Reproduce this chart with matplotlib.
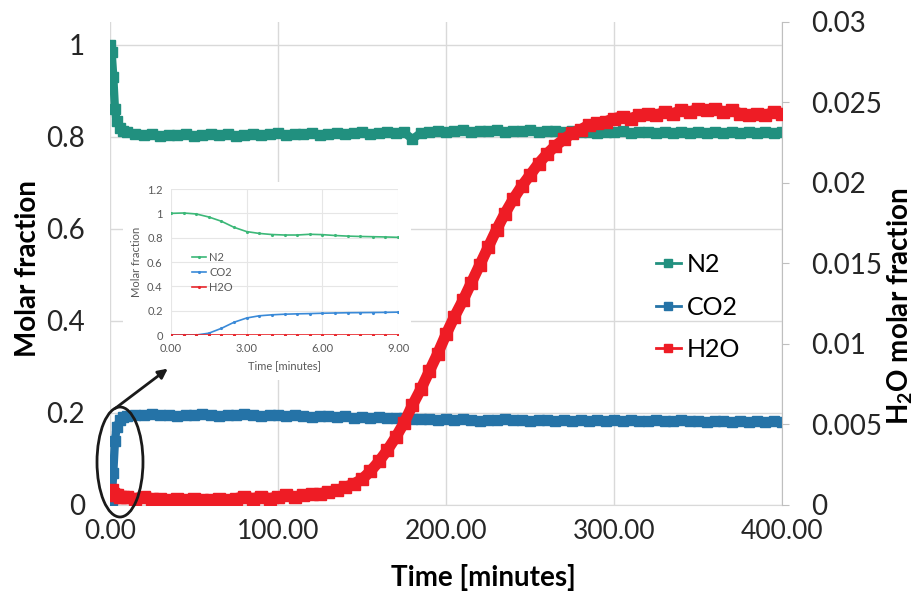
import matplotlib
matplotlib.use("Agg")
import matplotlib.pyplot as plt
from matplotlib.patches import Ellipse, FancyArrowPatch
from matplotlib.lines import Line2D

plt.rcParams['font.family'] = ['Lato', 'DejaVu Sans']
plt.rcParams['mathtext.fontset'] = 'custom'
plt.rcParams['mathtext.rm'] = 'Lato:bold'

# main series, time in minutes
time = [0, 1, 2, 3, 4, 6, 8, 10, 15, 20, 25, 30, 35, 40, 45, 50, 55, 60, 65, 70,
        75, 80, 85, 90, 95, 100, 105, 110, 115, 120, 125, 130, 135, 140, 145, 150,
        155, 160, 165, 170, 175, 180, 185, 190, 195, 200, 205, 210, 215, 220, 225,
        230, 235, 240, 245, 250, 255, 260, 265, 270, 275, 280, 285, 290, 295, 300,
        305, 310, 315, 320, 325, 330, 335, 340, 345, 350, 355, 360, 365, 370, 375,
        380, 385, 390, 395, 400]
n2 = [1.000, 0.985, 0.930, 0.860, 0.835, 0.820, 0.813, 0.810, 0.806, 0.804, 0.806,
      0.803, 0.805, 0.804, 0.806, 0.803, 0.805, 0.807, 0.804, 0.806, 0.803, 0.805,
      0.807, 0.804, 0.806, 0.808, 0.805, 0.807, 0.806, 0.808, 0.805, 0.807, 0.809,
      0.806, 0.808, 0.810, 0.807, 0.809, 0.811, 0.808, 0.810, 0.795, 0.809, 0.811,
      0.813, 0.810, 0.812, 0.814, 0.811, 0.813, 0.812, 0.814, 0.811, 0.813, 0.812,
      0.814, 0.811, 0.813, 0.812, 0.810, 0.812, 0.810, 0.811, 0.809, 0.811, 0.810,
      0.812, 0.809, 0.811, 0.810, 0.808, 0.810, 0.809, 0.811, 0.809, 0.810, 0.808,
      0.810, 0.809, 0.811, 0.809, 0.810, 0.808, 0.810, 0.809, 0.810]
co2 = [0.000, 0.010, 0.070, 0.140, 0.170, 0.185, 0.192, 0.194, 0.196, 0.195, 0.197,
       0.195, 0.196, 0.194, 0.196, 0.195, 0.197, 0.195, 0.194, 0.196, 0.195, 0.197,
       0.195, 0.194, 0.196, 0.195, 0.193, 0.195, 0.194, 0.192, 0.194, 0.193, 0.191,
       0.193, 0.190, 0.192, 0.190, 0.191, 0.189, 0.190, 0.188, 0.187, 0.186, 0.187,
       0.185, 0.186, 0.184, 0.186, 0.185, 0.183, 0.185, 0.184, 0.186, 0.184, 0.185,
       0.183, 0.185, 0.184, 0.182, 0.184, 0.183, 0.185, 0.183, 0.184, 0.182, 0.184,
       0.183, 0.185, 0.183, 0.182, 0.184, 0.183, 0.182, 0.184, 0.182, 0.183, 0.181,
       0.183, 0.182, 0.180, 0.182, 0.181, 0.183, 0.181, 0.182, 0.181]
h2o = [0.0008, 0.0009, 0.0007, 0.0006, 0.0006, 0.0005, 0.0005, 0.0005, 0.0004, 0.0005,
       0.0004, 0.0004, 0.0003, 0.0004, 0.0003, 0.0004, 0.0003, 0.0003, 0.0004, 0.0003,
       0.0004, 0.0005, 0.0004, 0.0005, 0.0004, 0.0005, 0.0006, 0.0005, 0.0006, 0.0007,
       0.0007, 0.0008, 0.0009, 0.0011, 0.0013, 0.0016, 0.0021, 0.0027, 0.0034, 0.0042,
       0.0051, 0.0062, 0.0072, 0.0083, 0.0094, 0.0106, 0.0117, 0.0127, 0.0138, 0.0149,
       0.0160, 0.0171, 0.0181, 0.0190, 0.0198, 0.0205, 0.0212, 0.0218, 0.0223, 0.0227,
       0.0231, 0.0233, 0.0236, 0.0237, 0.0238, 0.0240, 0.0241, 0.0240, 0.0242, 0.0243,
       0.0242, 0.0244, 0.0243, 0.0245, 0.0244, 0.0246, 0.0245, 0.0246, 0.0244, 0.0245,
       0.0243, 0.0242, 0.0243, 0.0242, 0.0244, 0.0243]

# inset: first 9 minutes
t_in = [0.0, 0.5, 1.0, 1.5, 2.0, 2.5, 3.0, 3.5, 4.0, 4.5, 5.0, 5.5, 6.0, 6.5, 7.0,
        7.5, 8.0, 8.5, 9.0]
n2_in = [1.000, 1.003, 0.995, 0.970, 0.935, 0.885, 0.850, 0.835, 0.826, 0.822, 0.822,
         0.828, 0.825, 0.818, 0.813, 0.810, 0.808, 0.806, 0.803]
co2_in = [0.000, 0.000, 0.000, 0.015, 0.055, 0.105, 0.140, 0.158, 0.166, 0.171, 0.174,
          0.176, 0.179, 0.181, 0.183, 0.184, 0.185, 0.186, 0.188]
h2o_in = [0.002, 0.002, 0.002, 0.002, 0.002, 0.002, 0.002, 0.002, 0.002, 0.002, 0.002,
          0.002, 0.002, 0.002, 0.002, 0.002, 0.002, 0.002, 0.002]

x_ticks = [0, 100, 200, 300, 400]
x_labels = ['0.00', '100.00', '200.00', '300.00', '400.00']
y_ticks = [0, 0.2, 0.4, 0.6, 0.8, 1.0]
y_labels = ['0', '0.2', '0.4', '0.6', '0.8', '1']
y2_ticks = [0, 0.005, 0.01, 0.015, 0.02, 0.025, 0.03]
y2_labels = ['0', '0.005', '0.01', '0.015', '0.02', '0.025', '0.03']

c_n2, c_co2, c_h2o = '#21907f', '#2573a7', '#ee1c25'
grid_c = '#d9d9d9'

fig = plt.figure(figsize=(9.16, 5.92), dpi=100)
ax = fig.add_axes([0.120, 0.147, 0.734, 0.816])
ax.plot(time, n2, color=c_n2, lw=6, marker='s', ms=7, zorder=3)
ax.plot(time, co2, color=c_co2, lw=6, marker='s', ms=7, zorder=3)
ax.set_xlim(0, 400)
ax.set_ylim(0, 1.05)
ax.set_xticks(x_ticks)
ax.set_xticklabels(x_labels)
ax.set_yticks(y_ticks)
ax.set_yticklabels(y_labels)
ax.grid(True, color=grid_c, lw=1)
ax.set_axisbelow(True)
for s in ['left', 'top', 'right']:
    ax.spines[s].set_visible(False)
ax.spines['bottom'].set_color(grid_c)
ax.tick_params(axis='both', length=0, labelsize=20, colors='#262626')
ax.tick_params(axis='y', pad=18)
ax.tick_params(axis='x', pad=10, labelsize=19)
ax.set_xlabel('Time [minutes]', fontsize=20, fontweight='bold', va='center')
ax.xaxis.set_label_coords(0.555, -0.151)
ax.set_ylabel('Molar fraction', fontsize=20, fontweight='bold', va='center')
ax.yaxis.set_label_coords(-0.122, 0.49)

ax2 = ax.twinx()
ax2.plot(time, h2o, color=c_h2o, lw=8, marker='s', ms=9, zorder=3)
ax2.set_ylim(0, 0.03)
ax2.set_yticks(y2_ticks)
ax2.set_yticklabels(y2_labels)
for s in ['left', 'top', 'bottom']:
    ax2.spines[s].set_visible(False)
ax2.spines['right'].set_color('#bfbfbf')
ax2.tick_params(axis='y', length=5, color='#bfbfbf', pad=16, labelsize=20,
                labelcolor='#262626')
ax2.set_ylabel(r'H$_2$O molar fraction', fontsize=20, fontweight='bold',
               rotation=90, va='center')
ax2.yaxis.set_label_coords(1.176, 0.412)

handles = [Line2D([], [], color=c, lw=2, marker='s', ms=6) for c in (c_n2, c_co2, c_h2o)]
ax2.legend(handles, ['N2', 'CO2', 'H2O'], loc='center left',
           bbox_to_anchor=(0.716, 0.4814), bbox_transform=fig.transFigure,
           frameon=False, fontsize=18, labelspacing=0.78, handlelength=1.0,
           handletextpad=0.25, borderpad=0, borderaxespad=0)

# white box behind inset
bg = fig.add_axes([0.1343, 0.3581, 0.3144, 0.3345])
bg.set_xticks([])
bg.set_yticks([])
for s in bg.spines.values():
    s.set_visible(False)
bg.set_facecolor('white')

ins = fig.add_axes([0.1867, 0.4341, 0.2478, 0.2466])
ins.plot(t_in, n2_in, color='#3cb878', lw=1.2, marker='.', ms=2.5, label='N2')
ins.plot(t_in, co2_in, color='#3a8ad8', lw=1.2, marker='.', ms=2.5, label='CO2')
ins.plot(t_in, h2o_in, color='#e8282d', lw=1.2, marker='.', ms=2.5, label='H2O')
ins.set_xlim(0, 9)
ins.set_ylim(0, 1.2)
ins.set_xticks([0, 3, 6, 9])
ins.set_xticklabels(['0.00', '3.00', '6.00', '9.00'])
ins.set_yticks([0, 0.2, 0.4, 0.6, 0.8, 1.0, 1.2])
ins.set_yticklabels(['0', '0.2', '0.4', '0.6', '0.8', '1', '1.2'])
ins.grid(True, color='#e6e6e6', lw=0.8)
for s in ins.spines.values():
    s.set_visible(False)
ins.tick_params(length=0, labelsize=8, colors='#595959', pad=6)
ins.set_xlabel('Time [minutes]', fontsize=8, color='#595959')
ins.set_ylabel('Molar fraction', fontsize=8, color='#595959')
ins.legend(loc='center left', bbox_to_anchor=(0.05, 0.43), frameon=False,
           fontsize=8, labelcolor='#595959', handlelength=1.2, handletextpad=0.3,
           labelspacing=0.35)

# ellipse around the start and arrow to the inset
fig.add_artist(Ellipse((0.131, 0.2196), 0.0502, 0.1858, transform=fig.transFigure,
                       fill=False, ec='#1a1a1a', lw=2, zorder=5))
fig.add_artist(FancyArrowPatch((0.1234, 0.3074), (0.1856, 0.3801),
                               transform=fig.transFigure, arrowstyle='-|>',
                               mutation_scale=14, lw=2, color='#1a1a1a', zorder=5))

fig.savefig('out.png', dpi=100)
